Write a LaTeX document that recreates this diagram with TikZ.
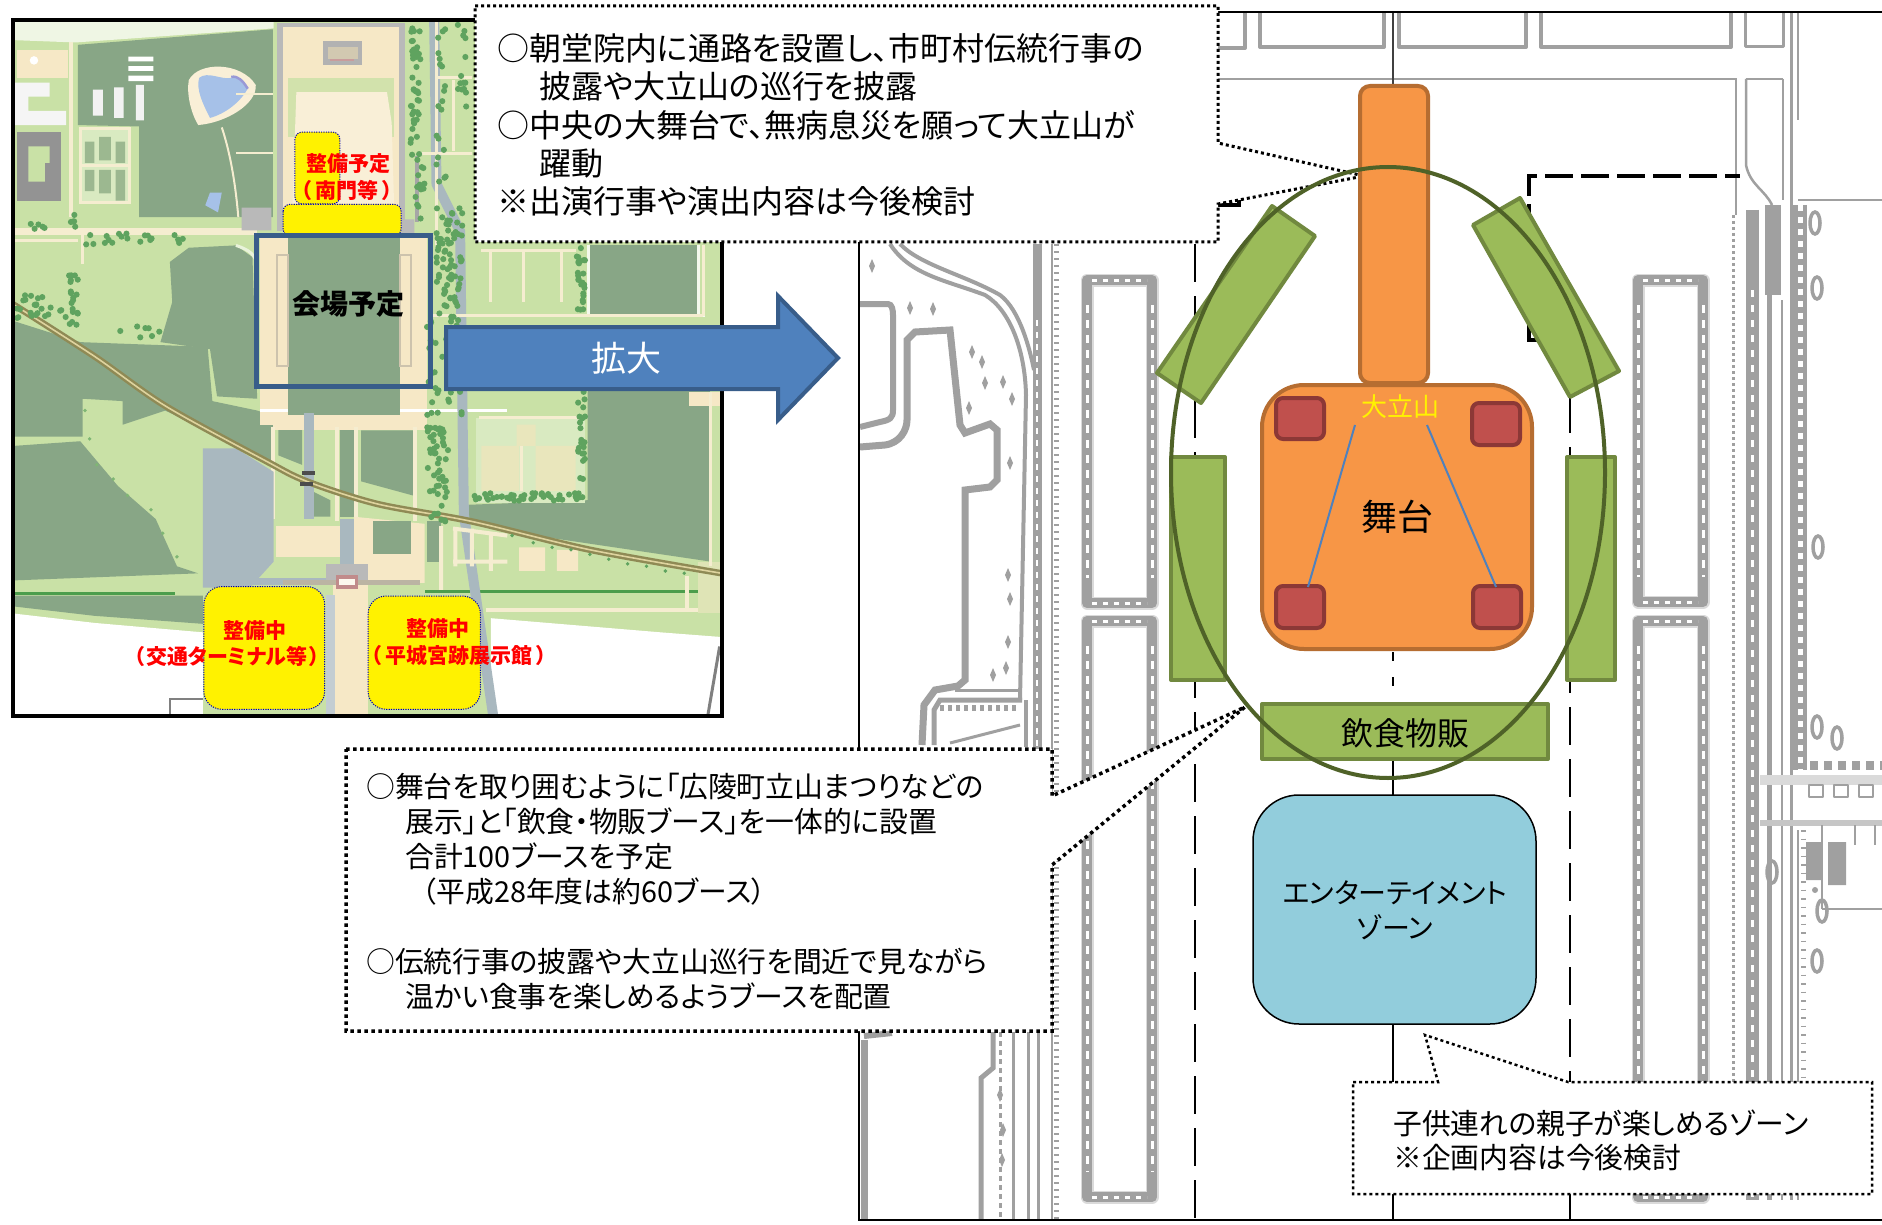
\documentclass[tikz,border=0pt]{standalone}
\usepackage{fontspec}
\setmainfont{Noto Sans CJK JP}[RawFeature=+palt]
\definecolor{mdark}{HTML}{88A686}
\definecolor{mlight}{HTML}{C9E1A6}
\definecolor{mbeige}{HTML}{F6E8C6}
\definecolor{mroad}{HTML}{F5EDD0}
\definecolor{mgray}{HTML}{A9B8BF}
\definecolor{mtree}{HTML}{5FA35F}
\definecolor{mrail}{HTML}{8F8A55}
\definecolor{plangray}{HTML}{A0A0A0}
\definecolor{planhalo}{HTML}{DADADA}
\definecolor{orf}{HTML}{F79646}
\definecolor{ors}{HTML}{B66D31}
\definecolor{grf}{HTML}{9BBB59}
\definecolor{grs}{HTML}{71893F}
\definecolor{redf}{HTML}{C0504D}
\definecolor{reds}{HTML}{8C3836}
\definecolor{blf}{HTML}{4F81BD}
\definecolor{bls}{HTML}{385D8A}
\definecolor{cyanf}{HTML}{92CDDC}
\definecolor{ringc}{HTML}{4F6228}
\tikzset{
  x=1pt,y=-1pt,
  plan/.style={draw=plangray,line width=4,line join=round},
  planthin/.style={draw=plangray,line width=2.5},
  boothbox/.style={fill=grf,draw=grs,line width=4,line join=round},
  stagebox/.style={fill=orf,draw=ors,line width=4},
  redbox/.style={fill=redf,draw=reds,line width=4,rounded corners=7},
  callout/.style={fill=white,draw=black,line width=3,dash pattern=on 3pt off 3pt},
  yellowbox/.style={fill=yellow,draw=blue!70!black,line width=1,dash pattern=on 1.2pt off 1.2pt},
  redlabel/.style={text=red,font=\fontsize{21}{25}\bfseries\selectfont,inner sep=0},
  calltext/.style={align=left,anchor=north west,inner sep=0},
}
\newcommand\treesin[5]{\foreach \i in {1,...,#5}{\pgfmathsetmacro\px{#1+rnd*#3}\pgfmathsetmacro\py{#2+rnd*#4}\fill[mtree] (\px,\py) circle (6.5);}}
\newcommand\planbldg[4]{%
  \draw[planhalo,line width=13,line join=round] (#1,#2) rectangle (#3,#4);
  \draw[plangray,line width=10,line join=round] (#1,#2) rectangle (#3,#4);
  \draw[white,line width=3,dash pattern=on 8pt off 7pt] (#1,#2+25) -- (#1,#4-25);
  \draw[white,line width=3,dash pattern=on 8pt off 7pt] (#3,#2+25) -- (#3,#4-25);
  \draw[white,line width=3,dash pattern=on 5pt off 6pt] (#1+5,#2) -- (#3-5,#2);
  \draw[white,line width=3,dash pattern=on 5pt off 6pt] (#1+5,#4) -- (#3-5,#4);
}
\newcommand\plancross[2]{\fill[plangray] (#1-3,#2) -- (#1,#2-7) -- (#1+3,#2) -- (#1,#2+7) -- cycle;}
\begin{document}
\begin{tikzpicture}
\useasboundingbox (0,0) rectangle (1882,1225);
\fill[white] (0,0) rectangle (1882,1225);
% ---------- site map (coordinates of a 2.119x enlargement) ----------
\begin{scope}[scale=0.4719]
\clip (28,42) rectangle (1530,1516);
\fill[mlight] (28,42) rectangle (1530,1516);
\pgfmathsetseed{11}
% white surroundings
\fill[white] (28,1300) -- (200,1320) -- (430,1340) -- (430,1516) -- (28,1516) -- cycle;
\fill[white] (1040,1310) -- (1400,1340) -- (1530,1350) -- (1530,1516) -- (1040,1516) -- cycle;
\fill[white!70!mlight] (28,42) -- (580,42) -- (580,60) -- (160,90) -- (28,85) -- cycle;
% dark fields
\fill[mdark] (165,95) -- (578,62) -- (578,460) -- (295,460) -- (295,268) -- (165,265) -- cycle;
\fill[mdark] (360,555) -- (400,525) -- (500,520) -- (535,545) -- (545,845) -- (460,840) -- (445,740) -- (340,725) -- (365,640) -- cycle;
\fill[mdark] (28,680) -- (170,725) -- (440,735) -- (450,850) -- (545,870) -- (578,880) -- (578,985) -- (500,940) -- (350,870) -- (260,900) -- (260,850) -- (175,845) -- (175,925) -- (28,925) -- cycle;
\fill[mdark] (28,945) -- (170,935) -- (250,1030) -- (330,1100) -- (375,1200) -- (420,1215) -- (28,1230) -- cycle;
\fill[mdark] (28,1262) -- (430,1262) -- (430,1322) -- (200,1305) -- (28,1285) -- cycle;
\fill[mdark] (1250,520) rectangle (1480,665);
\fill[mdark] (1245,690) rectangle (1505,830);
\fill[mdark] (1245,830) -- (1505,830) -- (1505,1190) -- (1100,1130) -- (985,1100) -- (985,1070) -- (1245,1060) -- cycle;
\fill[mdark] (905,1105) rectangle (935,1190);
\fill[mdark] (590,910) -- (640,910) -- (640,985) -- (590,965) -- cycle;
\fill[mdark] (720,905) rectangle (750,1095);
\fill[mdark] (765,912) -- (875,912) -- (875,1050) -- (765,1020) -- cycle;
\fill[mdark] (660,1040) -- (700,1060) -- (700,1095) -- (660,1095) -- cycle;
\draw[white!80!mlight,line width=3] (1248,520) -- (1248,668) -- (1495,668);
\draw[white!80!mlight,line width=3] (1480,520) -- (1480,670);
% strips
\fill[green!45!black!70] (28,1254) rectangle (370,1260);
\fill[green!45!black!70] (900,1250) rectangle (1490,1257);
\draw[mroad,line width=7] (28,490) -- (545,490);
\draw[mroad,line width=4] (1455,1220) -- (1455,1295) (1030,1292) -- (1505,1292);
\draw[mroad,line width=3] (175,490) -- (175,560) (30,510) -- (165,510);
% top-left buildings
\fill[mbeige] (35,105) rectangle (145,165);
\fill[white!92!gray] (30,175) rectangle (105,205) (30,205) rectangle (60,235) (30,235) rectangle (140,265);
\fill[white] (272,120) rectangle (325,130) (272,140) rectangle (325,150) (272,160) rectangle (325,172);
\fill[white!90!gray] (197,190) rectangle (218,245) (242,185) rectangle (262,250) (288,180) rectangle (305,255);
\fill[gray!85] (35,280) rectangle (130,425);
\fill[mlight] (60,310) rectangle (105,345) (60,345) rectangle (95,385);
\fill[mlight!70!white] (170,272) rectangle (275,430);
\fill[mdark!70!mlight] (180,300) rectangle (200,345) (210,290) rectangle (235,340) (245,300) rectangle (265,345) (180,360) rectangle (200,405) (210,360) rectangle (235,410) (245,360) rectangle (265,425);
\draw[mroad,line width=3] (170,272) rectangle (275,430) (170,350) -- (275,350);
\fill[white] (72,128) circle (9);
\draw[mroad,line width=4] (150,90) -- (150,460);
% pond
\fill[mbeige!70!white] (400,170) .. controls (420,130) and (510,130) .. (542,180) .. controls (545,220) and (480,260) .. (420,265) .. controls (405,240) and (395,200) .. (400,170) -- cycle;
\fill[cyan!55!blue!35] (422,165) .. controls (440,150) and (470,170) .. (490,165) .. controls (510,160) and (515,175) .. (525,188) .. controls (510,215) and (480,240) .. (445,250) .. controls (430,220) and (415,190) .. (422,165) -- cycle;
\draw[black!40!blue!40,line width=2.5] (490,163) .. controls (505,160) and (515,172) .. (525,188);
\fill[cyan!55!blue!35] (445,408) -- (470,408) -- (462,450) -- (435,435) -- cycle;
\draw[mroad,line width=2] (470,270) .. controls (490,330) and (500,400) .. (505,460);
\draw[mroad,line width=2] (500,325) -- (578,325) (500,200) -- (578,200);
% north compound
\fill[gray!55] (588,48) rectangle (858,490);
\fill[mbeige] (600,58) rectangle (846,490);
\fill[mlight!80!mbeige] (610,165) rectangle (835,290);
\fill[mbeige!70!white] (628,195) -- (820,195) -- (830,260) -- (835,430) -- (620,430) -- cycle;
\fill[gray!60] (685,87) rectangle (768,138);
\fill[mbeige!70!gray] (695,100) rectangle (758,125);
\fill[red!30!gray!60] (700,125) rectangle (750,130);
\fill[gray!55] (512,440) rectangle (575,488) (850,465) rectangle (878,495);
\fill[gray!70] (880,330) rectangle (888,470);
% venue
\fill[mbeige] (552,500) rectangle (905,900);
\fill[mdark] (610,505) rectangle (848,880);
\draw[gray!35!mbeige,line width=2] (588,540) rectangle (610,775) (848,540) rectangle (870,775);
\draw[white,line width=3] (552,870) -- (610,870) (848,870) -- (1075,870);
\draw[mlight!40!white,line width=3] (500,520) .. controls (530,530) and (540,540) .. (545,560);
\fill[mbeige] (578,900) rectangle (900,912);
\draw[mroad,line width=4] (578,905) -- (578,1100) (715,905) -- (715,1105) (755,905) -- (755,1095) (880,905) -- (880,1105);
% south axis
\fill[mgray] (645,875) rectangle (665,1100);
\fill[mgray] (430,950) -- (500,950) -- (580,1000) -- (580,1190) -- (530,1245) -- (430,1245) -- cycle;
\fill[mbeige] (585,1115) rectangle (720,1180);
\fill[mbeige] (750,1095) -- (900,1110) -- (900,1235) -- (750,1235) -- cycle;
\fill[mdark] (790,1105) rectangle (870,1175);
\fill[mgray] (720,1100) rectangle (750,1195);
\fill[mgray] (530,1225) rectangle (700,1240);
\fill[gray!55] (690,1195) rectangle (780,1235);
\fill[gray!50!mbeige] (600,1230) rectangle (890,1240);
\fill[mbeige] (705,1240) rectangle (780,1516);
\fill[mgray!70!white] (690,1260) rectangle (710,1516);
\fill[red!30!gray!70] (712,1218) rectangle (758,1248);
\fill[white!70!mbeige] (718,1226) rectangle (752,1240);
\draw[gray,line width=2] (360,1516) -- (360,1482) -- (430,1482);
% east part
\draw[mgray,line width=10] (920,42) -- (925,390) -- (975,490) -- (983,1090) -- (1045,1516);
\fill[mlight!70!white] (1008,885) rectangle (1240,1065);
\fill[mbeige!70!mlight] (1020,945) rectangle (1100,1040) (1135,945) rectangle (1220,1040) (1095,900) rectangle (1135,945);
\draw[mroad,line width=3] (1020,530) -- (1220,530) (1040,530) -- (1040,640) (1110,530) -- (1110,640) (1190,530) -- (1190,640) (915,668) -- (1490,668);
\draw[mroad,line width=3] (1015,885) -- (1240,885) (1105,945) -- (1105,1040) (925,165) -- (1000,165) (960,170) -- (960,320) (885,325) -- (1000,325) (925,45) -- (925,520);
\draw[mroad,line width=4] (935,1115) -- (935,1250) (960,1120) -- (1075,1135) (960,1190) -- (1075,1190) (965,1120) -- (965,1200) (1000,1120) -- (1000,1200) (1040,1130) -- (1040,1210);
\fill[mbeige] (1100,1160) rectangle (1155,1210) (1180,1165) rectangle (1225,1210);
\fill[mbeige] (1460,830) rectangle (1528,860);
\fill[mlight!50!mbeige] (1480,1190) rectangle (1528,1300);
\draw[gray,line width=3] (1500,1516) -- (1525,1370);
\draw[mroad,line width=3] (1490,520) -- (1490,670) (1505,830) -- (1505,1200);
% railway
\draw[mrail,line width=6.5] plot[smooth] coordinates {(28,645) (200,755) (350,860) (560,975) (650,1020) (800,1068) (1000,1105) (1250,1165) (1530,1215)};
\draw[mbeige!80!olive,line width=1.6] plot[smooth] coordinates {(28,645) (200,755) (350,860) (560,975) (650,1020) (800,1068) (1000,1105) (1250,1165) (1530,1215)};
\draw[black!70,line width=4] (640,1003) -- (668,1003) (636,1025) -- (664,1025);
% trees
\treesin{870}{45}{22}{310}{45}
\treesin{880}{350}{20}{140}{12}
\treesin{925}{60}{20}{330}{20}
\treesin{970}{50}{22}{180}{14}
\treesin{925}{440}{55}{250}{70}
\treesin{905}{680}{80}{200}{36}
\treesin{905}{905}{45}{200}{48}
\treesin{1000}{1045}{240}{16}{40}
\treesin{1222}{515}{18}{150}{24}
\treesin{1225}{830}{16}{240}{24}
\treesin{145}{575}{20}{120}{20}
\treesin{35}{625}{110}{50}{24}
\treesin{180}{495}{210}{25}{20}
\treesin{210}{690}{130}{25}{7}
\treesin{150}{455}{12}{30}{5}
\treesin{45}{465}{60}{50}{5}
\foreach \a/\b in {1085/1135,1130/1150,1170/1160,1210/1165,1250/1175,1290/1185,1330/1195,1370/1200,1410/1210,1450/1215}{\fill[mtree] (\a,\b) circle (4);}
\foreach \a/\b in {180/870,190/930,205/985,240/1015,270/1050,320/1080,345/1130,375/1180}{\fill[mtree!70!mlight] (\a,\b) circle (4);}
% yellow zones
\draw[yellowbox,rounded corners=7] (625,280) rectangle (720,432);
\draw[yellowbox,rounded corners=7] (600,433) rectangle (850,500);
\draw[yellowbox,rounded corners=18] (432,1243) rectangle (688,1503);
\draw[yellowbox,rounded corners=18] (780,1263) rectangle (1018,1503);
\end{scope}
\node[redlabel] (nanmon1) at (348,164) {整備予定};
\node[redlabel] (nanmon2) at (347,190) {（\hspace{4pt}南門等\hspace{4pt}）};
\node[redlabel] (koutsu1) at (255,631) {整備中};
\node[redlabel] (koutsu2) at (227,656) {（\hspace{2pt}交通ターミナル等\hspace{2pt}）};
\node[redlabel] (tenji1) at (438,629) {整備中};
\node[redlabel] (tenji2) at (459,655) {（\hspace{4pt}平城宮跡展示館\hspace{4pt}）};
\draw[black,line width=3.5] (13,20) rectangle (722,716);
\draw[bls,line width=5] (256,236) rectangle (430,386);
\node[font=\fontsize{28}{32}\bfseries\selectfont,inner sep=0] (venue) at (348,304) {会場予定};
% ---------- enlarged plan ----------
% top row
\draw[plan] (1190,48) -- (1245,48) -- (1245,12);
\draw[plan] (1260,12) -- (1260,47) -- (1384,47) -- (1384,12);
\draw[plan] (1399,12) -- (1399,47) -- (1526,47) -- (1526,12);
\draw[plan] (1541,12) -- (1541,47) -- (1731,47) -- (1731,12);
\draw[plan,line width=3] (1745,12) -- (1745,47) -- (1783,47) -- (1783,12);
\draw[planthin] (1200,79) -- (1736,79) -- (1736,215);
\draw[plangray,line width=3,dash pattern=on 3pt off 3pt] (1733,215) -- (1733,1190);
\draw[planthin] (1746,79) -- (1746,165) .. controls (1750,185) and (1765,190) .. (1772,205);
\draw[planthin] (1783,79) -- (1783,200);
\draw[planthin] (1746,79) -- (1783,79);
\draw[plangray,line width=3] (1791,12) -- (1791,1200);
\draw[plangray,line width=2] (1798,12) -- (1798,120);
\draw[plangray,line width=2.5] (1798,200) -- (1882,200);
% right long lines
\draw[plangray,line width=13] (1752,210) -- (1752,1200);
\draw[white,line width=3,dash pattern=on 7pt off 8pt] (1752,290) -- (1752,1200);
\draw[plangray,line width=5] (1769,210) -- (1769,1200);
\fill[plangray] (1765,205) rectangle (1781,295);
\draw[plangray,line width=1.8] (1782,300) -- (1782,1200);
\draw[plangray,line width=14] (1800,205) -- (1800,770);
\draw[white,line width=5,dash pattern=on 6pt off 6pt] (1800,205) -- (1800,770);
\draw[plangray,line width=5,dash pattern=on 1.5pt off 7pt] (1803,830) -- (1803,1082);
\draw[plangray,line width=2.5] (1798,830) -- (1798,1200);
\foreach \a/\b in {1815/223,1817/288,1818/547,1817/727,1837/738,1822/911,1817/961,1772/872}{\draw[plangray,line width=3.5] (\a,\b) ellipse (5 and 11);}
\fill[planhalo] (1760,775) rectangle (1882,785);
\fill[plangray!60] (1760,820) rectangle (1882,826);
\draw[plangray,line width=9,dash pattern=on 8pt off 6pt] (1810,765) -- (1882,765);
\foreach \a in {1815,1840,1865}{\draw[plan,line width=2] (\a-6,785) rectangle (\a+8,797);}
\fill[plangray] (1806,842) rectangle (1822,880) (1828,842) rectangle (1846,885) (1815,890) circle (3);
\draw[plangray,line width=2.5] (1822,909) -- (1882,909) (1822,825) -- (1822,909) (1855,825) -- (1855,845) (1875,825) -- (1875,845);
% buildings
\planbldg{1087}{280}{1152}{603}
\planbldg{1087}{621}{1152}{1197}
\planbldg{1638}{280}{1703}{602}
\planbldg{1638}{621}{1703}{1197}
% left curved roads
\draw[plan] (890,244) .. controls (910,275) and (945,280) .. (985,295) .. controls (1010,310) and (1025,350) .. (1026,395) -- (1020,700);
\draw[plan] (900,244) .. controls (920,265) and (965,275) .. (1000,295) .. controls (1020,310) and (1030,350) .. (1034,370);
\draw[plangray,line width=6] (860,304) -- (888,304) .. controls (892,304) and (893,310) .. (893,315) -- (893,410) .. controls (893,418) and (890,420) .. (880,422) -- (860,427);
\draw[plangray,line width=7] (860,447) -- (885,445) .. controls (900,443) and (907,430) .. (907,420) -- (907,340) -- (915,332) -- (950,330) -- (960,425) -- (965,433) -- (990,424) -- (997,430) -- (997,480) -- (990,487) -- (965,490) -- (965,680) -- (958,686) -- (935,690) -- (924,705) -- (922,745);
\draw[plangray,line width=5] (934,745) -- (934,710) -- (940,700) -- (1022,700);
\draw[plangray,line width=6,dash pattern=on 4pt off 4pt] (940,708) -- (1018,708);
\draw[plangray,line width=3] (955,690) -- (1018,690);
\draw[plangray,line width=3] (950,743) -- (1020,725);
\draw[plangray,line width=4] (1026,700) -- (1026,747);
\foreach \a/\b in {872/266,910/308,933/309,972/352,982/362,985/383,1003/382,1012/399,969/408,1010/463,1008/575,1010/599,1008/642,993/675,1006/668}{\plancross{\a}{\b}}
\draw[plangray,line width=9] (1037,244) -- (1037,750);
\draw[white,line width=2,dash pattern=on 6pt off 6pt] (1037,320) -- (1037,750);
\draw[plangray,line width=5,dash pattern=on 2pt off 5pt] (1056,244) -- (1056,1220);
\draw[plangray,line width=2.5] (1052,244) -- (1052,1220);
% lower-left plan
\draw[plangray,line width=3] (1013,1032) -- (1013,1220) (1038,1032) -- (1038,1220);
\draw[plangray,line width=3] (1028,1032) -- (1028,1220);
\draw[plangray,line width=3,dash pattern=on 5pt off 4pt] (1000,1032) -- (1000,1220);
\draw[plangray,line width=5] (993,1032) -- (993,1068) -- (981,1078) -- (981,1220);
\draw[plangray,line width=7] (864,1040) -- (864,1220);
\draw[plangray,line width=6] (864,1036) -- (892,1033);
\foreach \a/\b in {1000/1095,1003/1130,1002/1160}{\plancross{\a}{\b}}
% axis and dashed lines
\draw[black!75,line width=2.5] (1393,12) -- (1393,90);
\draw[black,line width=2.5,dash pattern=on 9pt off 16pt] (1393,652) -- (1393,704);
\draw[black,line width=2.5] (1393,755) -- (1393,800) (1393,1020) -- (1393,1220);
\draw[black,line width=2.5,dash pattern=on 38pt off 14pt] (1195,244) -- (1195,1220);
\draw[black,line width=2.5,dash pattern=on 38pt off 14pt] (1570,395) -- (1570,1082);
\draw[black,line width=2.5,dash pattern=on 38pt off 14pt] (1570,1194) -- (1570,1220);
\draw[black,line width=4.5,dash pattern=on 28pt off 8pt] (1529,340) -- (1529,176) -- (1740,176);
\draw[black,line width=3.5] (1217,205) -- (1239,205) -- (1239,200);
\draw[black,line width=3.5] (1529,330) -- (1529,340) -- (1537,340);
% frame of the plan
\draw[black,line width=2.5] (1882,12) -- (859,12) -- (859,1220) -- (1882,1220);
% ---------- arrow ----------
\draw[fill=blf,draw=bls,line width=4,line join=miter] (446,327) -- (778,327) -- (778,296) -- (838,358) -- (778,420) -- (778,389) -- (446,389) -- cycle;
\node[text=white,font=\fontsize{35}{40}\selectfont,inner sep=0] (zoomlabel) at (626,358) {拡大};
% ---------- callouts ----------
\draw[callout] (475,6) -- (1218,6) -- (1218,143) -- (1364,176) -- (1218,204) -- (1218,242) -- (475,242) -- cycle;
\node[calltext,font=\fontsize{32}{38.4}\selectfont] (topnote) at (497,33) {○朝堂院内に通路を設置し、市町村伝統行事の\\\hspace*{42pt}披露や大立山の巡行を披露\\○中央の大舞台で、無病息災を願って大立山が\\\hspace*{42pt}躍動\\※出演行事や演出内容は今後検討};
\draw[callout,line width=3.5,dash pattern=on 3.5pt off 3.5pt] (346,749) -- (1052,749) -- (1052,796) -- (1245,707) -- (1052,865) -- (1052,1031) -- (346,1031) -- cycle;
\node[calltext,font=\fontsize{28.8}{35}\selectfont] (midnote) at (366,773) {○舞台を取り囲むように「広陵町立山まつりなどの\\\hspace*{39pt}展示」と「飲食・物販ブース」を一体的に設置\\\hspace*{39pt}合計100ブースを予定\\\hspace*{56pt}（平成28年度は約60ブース）\\[35pt]○伝統行事の披露や大立山巡行を間近で見ながら\\\hspace*{39pt}温かい食事を楽しめるようブースを配置};
\draw[callout,line width=2.5] (1353,1082) -- (1438,1082) -- (1425,1035) -- (1568,1082) -- (1872,1082) -- (1872,1194) -- (1353,1194) -- cycle;
\node[calltext,font=\fontsize{28.8}{34}\selectfont] (kidsnote) at (1393,1110) {子供連れの親子が楽しめるゾーン\\※企画内容は今後検討};
% ---------- event layout ----------
\draw[boothbox] (1272,206) -- (1315,236) -- (1201,403) -- (1157,373) -- cycle;
\draw[boothbox] (1520,198) -- (1619,371) -- (1570,397) -- (1473,225) -- cycle;
\draw[boothbox] (1171,457) rectangle (1225,680);
\draw[boothbox] (1567,457) rectangle (1615,680);
\draw[stagebox,rounded corners=10] (1360,86) rectangle (1428,383);
\draw[stagebox,rounded corners=42] (1262,385) rectangle (1532,649);
\draw[redbox] (1276,398) rectangle (1324,439);
\draw[redbox] (1472,403) rectangle (1520,445);
\draw[redbox] (1276,586) rectangle (1324,628);
\draw[redbox] (1473,586) rectangle (1521,628);
\node[text=yellow,font=\fontsize{26}{30}\selectfont,inner sep=0] (oodate) at (1400,407) {大立山};
\coordinate (lineL) at (1355,425);
\coordinate (lineR) at (1427,425);
\draw[blf,line width=2] (lineL) -- (1308,587);
\draw[blf,line width=2] (lineR) -- (1496,587);
\node[font=\fontsize{36}{40}\selectfont,inner sep=0] (stage) at (1397,517) {舞台};
\draw[boothbox] (1262,704) rectangle (1548,759);
\node[font=\fontsize{32}{36}\selectfont,inner sep=0] (food) at (1405,733) {飲食物販};
\draw[ringc,line width=4] (1388,472.5) ellipse (217 and 305.5);
\draw[fill=cyanf,draw=black,line width=1.5,rounded corners=46] (1253,795) rectangle (1536,1024);
\node[align=center,font=\fontsize{28}{35}\selectfont,inner sep=0] (entzone) at (1395,910) {エンターテイメント\\ゾーン};
\end{tikzpicture}
\end{document}
